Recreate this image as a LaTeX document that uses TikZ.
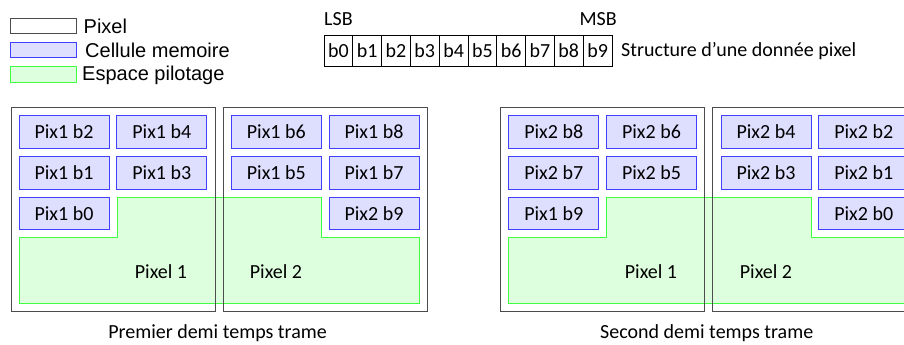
\documentclass[tikz,border=0pt]{standalone}
\usepackage{fontspec}
\setmainfont{Carlito}
\newfontfamily\legendfont{Liberation Sans}
\usepackage{xcolor}
\usetikzlibrary{positioning}

\begin{document}
\begin{tikzpicture}[
        x=1pt, y=-1pt,
        font=\fontsize{20}{24}\selectfont,
        pixbox/.style={
            rectangle, draw=black!70, line width=1pt,
            minimum width=204pt, minimum height=203.7pt, inner sep=0pt
        },
        cell/.style={
            rectangle, draw=blue!75, fill=blue!13, line width=0.9pt,
            minimum width=90pt, minimum height=32.5pt, inner sep=0pt
        },
        pilot/.style={draw=green!75, fill=green!13, line width=0.9pt},
        bit/.style={
            rectangle, draw, line width=0.8pt, outer sep=0pt,
            minimum width=28.8pt, minimum height=31.5pt, inner sep=0pt
        },
        legbox/.style={rectangle, line width=1pt, minimum width=65.7pt, minimum height=15.5pt, inner sep=0pt},
        legtext/.style={anchor=base west, inner sep=0pt, font=\legendfont\fontsize{20}{24}\selectfont}
    ]
    \useasboundingbox (0,0) rectangle (904,345);
    \clip (0,0) rectangle (904,345);

    % Legend
    \node[legbox, draw=black!70] (legpix) at (43.8,26) {};
    \node[legbox, draw=blue!75, fill=blue!13] (legcell) at (43.8,50) {};
    \node[legbox, draw=green!75, fill=green!13] (legpilot) at (43.8,74.5) {};
    \node[legtext] (tpix) at (83.5,34) {Pixel};
    \node[legtext] (tcell) at (85,58) {Cellule memoire};
    \node[legtext] (tpilot) at (82,81) {Espace pilotage};

    % Pixel data structure
    \node[bit] (b0) at (338.4,51) {b0};
    \node[bit, right=0pt of b0] (b1) {b1};
    \node[bit, right=0pt of b1] (b2) {b2};
    \node[bit, right=0pt of b2] (b3) {b3};
    \node[bit, right=0pt of b3] (b4) {b4};
    \node[bit, right=0pt of b4] (b5) {b5};
    \node[bit, right=0pt of b5] (b6) {b6};
    \node[bit, right=0pt of b6] (b7) {b7};
    \node[bit, right=0pt of b7] (b8) {b8};
    \node[bit, right=0pt of b8] (b9) {b9};
    \node[anchor=base west, inner sep=0pt] (lsb) at (b0.west |- 0,26) {LSB};
    \node[anchor=base east, inner sep=0pt] (msb) at (617,26) {MSB};
    \node[anchor=west, inner sep=0pt] (struct) at ([xshift=9pt]b9.east) {Structure d'une donnée pixel};

    % First half frame
    \draw[pilot] (19,237.7) -- (117,237.7) -- (117,197) -- (321.3,197) -- (321.3,237.7)
        -- (419,237.7) -- (419,303.3) -- (19,303.3) -- cycle;
    \node[pixbox] (pixA1) at (113,209.2) {};
    \node[pixbox] (pixA2) at (325,209.2) {};
    \node[cell] (pix1b2) at (64,131.7) {Pix1 b2};
    \node[cell] (pix1b4) at (161.8,131.7) {Pix1 b4};
    \node[cell] (pix1b6) at (276.3,131.7) {Pix1 b6};
    \node[cell] (pix1b8) at (374,131.7) {Pix1 b8};
    \node[cell] (pix1b1) at (64,172.7) {Pix1 b1};
    \node[cell] (pix1b3) at (161.8,172.7) {Pix1 b3};
    \node[cell] (pix1b5) at (276.3,172.7) {Pix1 b5};
    \node[cell] (pix1b7) at (374,172.7) {Pix1 b7};
    \node[cell] (pix1b0) at (64,213.3) {Pix1 b0};
    \node[cell] (pix2b9) at (374,213.3) {Pix2 b9};
    \node (labA1) at (161,271.7) {Pixel 1};
    \node (labA2) at (276,271.7) {Pixel 2};
    \node (capA) at (217.5,333) {Premier demi temps trame};

    % Second half frame
    \draw[pilot] (508.7,237.7) -- (606.7,237.7) -- (606.7,197) -- (811,197) -- (811,237.7)
        -- (908.7,237.7) -- (908.7,303.3) -- (508.7,303.3) -- cycle;
    \node[pixbox] (pixB1) at (602.7,209.2) {};
    \node[pixbox] (pixB2) at (814.7,209.2) {};
    \node[cell] (pix2b8) at (553.7,131.7) {Pix2 b8};
    \node[cell] (pix2b6) at (651.5,131.7) {Pix2 b6};
    \node[cell] (pix2b4) at (766,131.7) {Pix2 b4};
    \node[cell] (pix2b2) at (863.7,131.7) {Pix2 b2};
    \node[cell] (pix2b7) at (553.7,172.7) {Pix2 b7};
    \node[cell] (pix2b5) at (651.5,172.7) {Pix2 b5};
    \node[cell] (pix2b3) at (766,172.7) {Pix2 b3};
    \node[cell] (pix2b1) at (863.7,172.7) {Pix2 b1};
    \node[cell] (pix1b9) at (553.7,213.3) {Pix1 b9};
    \node[cell] (pix2b0) at (863.7,213.3) {Pix2 b0};
    \node (labB1) at (651,271.7) {Pixel 1};
    \node (labB2) at (766,271.7) {Pixel 2};
    \node (capB) at (706.7,333) {Second demi temps trame};

\end{tikzpicture}
\end{document}
